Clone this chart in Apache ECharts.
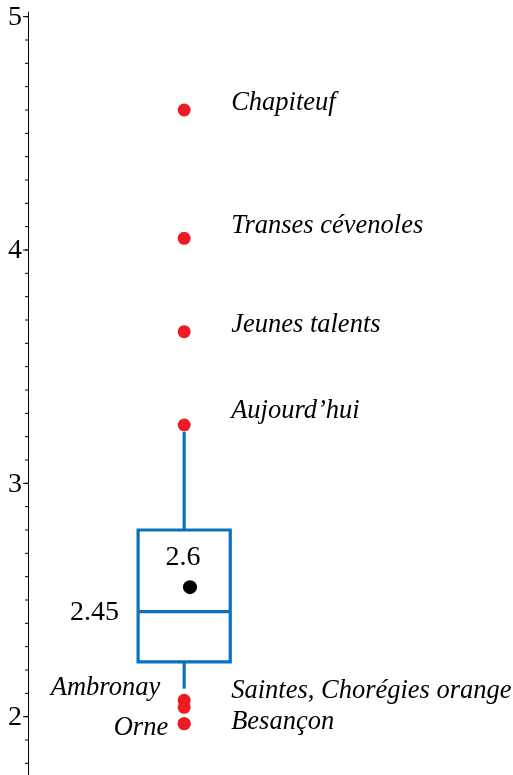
<!DOCTYPE html>
<html>
<head>
<meta charset="utf-8">
<script src="https://cdn.jsdelivr.net/npm/echarts@6/dist/echarts.min.js"></script>
<style>
html,body{margin:0;padding:0;background:#fff;}
#c{width:513px;height:775px;}
</style>
</head>
<body>
<div id="c"></div>
<script>
// ---- data ----
const yTicks = [2, 3, 4, 5];
const boxStats = { q1: 2.235, median: 2.45, q3: 2.8, whiskerLow: 2.12, whiskerHigh: 3.22 };
const meanValue = 2.555;
const meanLabel = '2.6';
const medianLabel = '2.45';
const outlierNames = ['Chapiteuf', 'Transes cévenoles', 'Jeunes talents', 'Aujourd\u2019hui',
  'Ambronay', 'Saintes, Chorégies orange', 'Orne', 'Besançon'];
const outlierValues = [4.60, 4.05, 3.65, 3.25, 2.07, 2.04, 1.97, 1.97];

// ---- layout / style (not data) ----
const BOX_X = 0.322, MEAN_X = 0.334, HALF_W = 0.095;
// [side, horizontal gap from point, vertical shift]
const labelLayout = [
  ['right', 47, -7], ['right', 47, -12], ['right', 47, -7], ['right', 47, -14],
  ['left', 24, -12], ['right', 47, -16], ['left', 16, 4], ['right', 47, -2]
];
const BLUE = '#0b72b9', RED = '#ed1c24';
const SERIF = '"Liberation Serif", "DejaVu Serif", serif';
const LABEL_FONT = 'italic 26.5px ' + SERIF;
const NUM_FONT = '28px ' + SERIF;

const chart = echarts.init(document.getElementById('c'), null, { renderer: 'canvas' });

chart.setOption({
  animation: false,
  grid: { left: 28, right: 0, top: 12, bottom: 0 },
  xAxis: { type: 'value', min: 0, max: 1, show: false },
  yAxis: {
    type: 'value', min: 1.75, max: 5.02, interval: 0.25,
    axisLine: { show: true, lineStyle: { color: '#000', width: 1 } },
    axisTick: { show: false },
    axisLabel: { show: false },
    splitLine: { show: false }
  },
  series: [
    {
      type: 'custom',
      data: [[BOX_X, boxStats.q1, boxStats.median, boxStats.q3, boxStats.whiskerLow, boxStats.whiskerHigh]],
      renderItem: function (params, api) {
        const x = api.value(0);
        const pL = api.coord([x - HALF_W, api.value(1)]);
        const pR = api.coord([x + HALF_W, api.value(3)]);
        const pc = api.coord([x, api.value(2)]);
        const pLow = api.coord([x, api.value(4)]);
        const pHigh = api.coord([x, api.value(5)]);
        const pMedL = api.coord([x - HALF_W, api.value(2)]);
        const pMedR = api.coord([x + HALF_W, api.value(2)]);
        const top = pR[1], bot = pL[1];
        const st = { stroke: BLUE, lineWidth: 3.2, fill: null };
        return {
          type: 'group',
          children: [
            { type: 'line', shape: { x1: pc[0], y1: top, x2: pc[0], y2: pHigh[1] }, style: st },
            { type: 'line', shape: { x1: pc[0], y1: bot, x2: pc[0], y2: pLow[1] }, style: st },
            { type: 'rect', shape: { x: pL[0], y: top, width: pR[0] - pL[0], height: bot - top }, style: { stroke: BLUE, lineWidth: 3.2, fill: '#fff' } },
            { type: 'line', shape: { x1: pMedL[0], y1: pMedL[1], x2: pMedR[0], y2: pMedR[1] }, style: st },
            { type: 'text', x: pMedL[0] - 19, y: pMedL[1] + 1, style: { text: medianLabel, font: NUM_FONT, fill: '#000', align: 'right', verticalAlign: 'middle' } }
          ]
        };
      },
      z: 1
    },
    {
      type: 'scatter',
      data: outlierValues.map(v => [BOX_X, v]),
      symbol: 'circle',
      symbolSize: 13,
      itemStyle: { color: RED, opacity: 1 },
      z: 3
    },
    {
      // outlier name labels
      type: 'custom',
      data: outlierValues.map((v, i) => [BOX_X, v, i]),
      renderItem: function (params, api) {
        const i = api.value(2);
        const p = api.coord([api.value(0), api.value(1)]);
        const lay = labelLayout[i];
        const right = lay[0] === 'right';
        return {
          type: 'text',
          x: right ? p[0] + lay[1] : p[0] - lay[1],
          y: p[1] + lay[2],
          style: { text: outlierNames[i], font: LABEL_FONT, fill: '#000', align: right ? 'left' : 'right', verticalAlign: 'middle' }
        };
      },
      clip: false,
      z: 4
    },
    {
      type: 'scatter',
      data: [[MEAN_X, meanValue]],
      symbol: 'circle',
      symbolSize: 14,
      itemStyle: { color: '#000', opacity: 1 },
      label: {
        show: true, formatter: meanLabel, position: 'top', distance: 9,
        offset: [-7, 0],
        color: '#000', fontFamily: SERIF, fontSize: 28
      },
      z: 3
    },
    {
      // y-axis ticks and tick labels drawn through the axis scale
      type: 'custom',
      data: yTicks.map(v => [0, v]),
      renderItem: function (params, api) {
        const p = api.coord([0, api.value(1)]);
        return {
          type: 'group',
          children: [
            { type: 'line', shape: { x1: p[0] - 5, y1: p[1], x2: p[0], y2: p[1] }, style: { stroke: '#000', lineWidth: 1 } },
            { type: 'text', x: p[0] - 6, y: p[1] + 1, style: { text: String(api.value(1)), font: NUM_FONT, fill: '#000', align: 'right', verticalAlign: 'middle' } }
          ]
        };
      },
      clip: false,
      z: 2
    },
    {
      // minor ticks every 0.1
      type: 'custom',
      data: Array.from({ length: 33 }, (_, i) => [0, Math.round((1.8 + i * 0.1) * 10) / 10]),
      renderItem: function (params, api) {
        const p = api.coord([0, api.value(1)]);
        return { type: 'line', shape: { x1: p[0] - 3, y1: p[1], x2: p[0], y2: p[1] }, style: { stroke: '#000', lineWidth: 1 } };
      },
      clip: false,
      z: 2
    }
  ]
});
</script>
</body>
</html>
